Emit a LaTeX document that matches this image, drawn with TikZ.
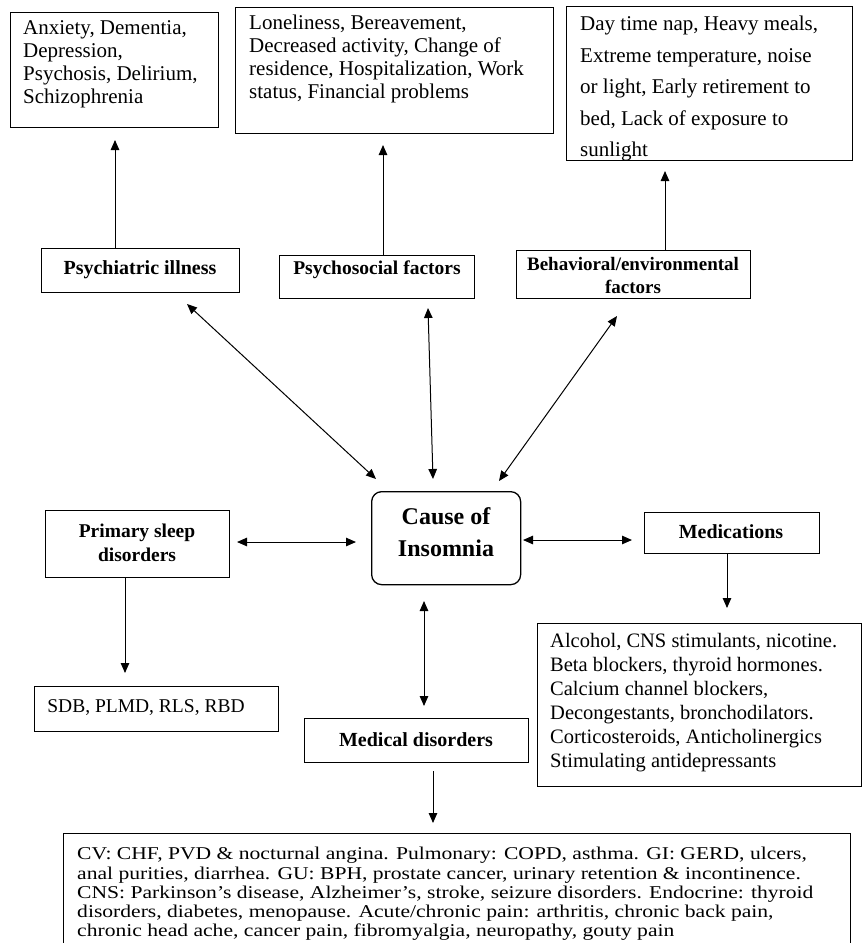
\documentclass[tikz,border=0pt]{standalone}
\usepackage{fontspec}
\setmainfont{Liberation Serif}
\newfontfamily\rt{Liberation Serif}
\newfontfamily\rtw[FakeStretch=1.2]{Liberation Serif}
\usetikzlibrary{arrows.meta}
\tikzset{
  box/.style={draw, line width=1.3pt, inner sep=0pt, anchor=north west},
  txt/.style={inner sep=0pt, anchor=north west, align=left, font=\rt\fontsize{21}{23}\selectfont},
  lbl/.style={inner sep=0pt, align=center, font=\bfseries\fontsize{20}{23}\selectfont},
  arr/.style={line width=1pt, -{Triangle[length=10pt,width=8.5pt]}},
  darr/.style={line width=1pt, {Triangle[length=10pt,width=8.5pt]}-{Triangle[length=10pt,width=8.5pt]}},
}
\begin{document}
\begin{tikzpicture}[x=1pt,y=-1pt]
\useasboundingbox (0,0) rectangle (862,943);
% top boxes
\node[box, minimum width=208pt, minimum height=115pt] (A) at (10,12) {};
\node[txt] (At) at (23,20) {Anxiety, Dementia,\\Depression,\\Psychosis, Delirium,\\Schizophrenia};
\node[box, minimum width=318pt, minimum height=126pt] (B) at (235,7) {};
\node[txt] (Bt) at (249,15) {Loneliness, Bereavement,\\Decreased activity, Change of\\residence, Hospitalization, Work\\status, Financial problems};
\node[box, minimum width=286pt, minimum height=154pt] (C) at (566,6) {};
\node[txt, font=\rt\fontsize{21}{31.5}\selectfont] (Ct) at (580,16) {Day time nap, Heavy meals,\\Extreme temperature, noise\\or light, Early retirement to\\bed, Lack of exposure to\\sunlight};
% labels
\node[box, minimum width=198pt, minimum height=44pt] (PI) at (41,248) {};
\node[lbl] (PIt) at (140,270) {Psychiatric illness};
\node[box, minimum width=195pt, minimum height=43pt] (PS) at (279,255) {};
\node[lbl, font=\bfseries\fontsize{19.5}{23}\selectfont] (PSt) at (377,270) {Psychosocial factors};
\node[box, minimum width=234pt, minimum height=48pt] (BE) at (516,250) {};
\node[lbl, font=\bfseries\fontsize{19}{23}\selectfont] (BEt) at (633,275) {Behavioral/environmental\\factors};
% arrows up
\coordinate (tA) at (115,140);
\coordinate (tB) at (383,145);
\coordinate (tC) at (665,171);
\draw[arr] (PI.north -| tA) -- (tA);
\draw[arr] (PS.north -| tB) -- (tB);
\draw[arr] (BE.north -| tC) -- (tC);
% center
\node[box, rounded corners=10pt, minimum width=149pt, minimum height=93pt] (CI) at (371,491) {};
\node[lbl, font=\bfseries\fontsize{24}{32}\selectfont] (CIt) at (446,532) {Cause of\\Insomnia};
% double arrows
\coordinate (p1) at (187,304); \coordinate (c1) at (376,479);
\coordinate (p2) at (428,308); \coordinate (c2) at (433,479);
\coordinate (p3) at (617,316); \coordinate (c3) at (499,481);
\draw[darr] (p1) -- (c1);
\draw[darr] (p2) -- (c2);
\draw[darr] (p3) -- (c3);
% primary sleep
\node[box, minimum width=184pt, minimum height=67pt] (PR) at (45,510) {};
\node[lbl, font=\bfseries\fontsize{19.5}{24}\selectfont] (PRt) at (137,543) {Primary sleep\\disorders};
\coordinate (l1) at (237,542); \coordinate (l2) at (356,542);
\draw[darr] (l1) -- (l2);
\node[box, minimum width=244pt, minimum height=45pt] (SD) at (34,686) {};
\node[lbl, font=\rt\fontsize{19.5}{23}\selectfont] (SDt) at (146,708) {SDB, PLMD, RLS, RBD};
\coordinate (tS) at (125,673);
\draw[arr] (PR.south -| tS) -- (tS);
% medications
\node[box, minimum width=175pt, minimum height=41pt] (ME) at (644,512) {};
\node[lbl] (MEt) at (731,532) {Medications};
\coordinate (r1) at (523,540); \coordinate (r2) at (632,540);
\draw[darr] (r1) -- (r2);
\coordinate (tM) at (727,608);
\draw[arr] (ME.south -| tM) -- (tM);
\node[box, minimum width=324pt, minimum height=163pt] (ML) at (537,623) {};
\node[txt, font=\rt\fontsize{20.5}{24}\selectfont] (MLt) at (550,633) {Alcohol, CNS stimulants, nicotine.\\Beta blockers, thyroid hormones.\\Calcium channel blockers,\\Decongestants, bronchodilators.\\Corticosteroids, Anticholinergics\\Stimulating antidepressants};
% medical
\coordinate (v1) at (424,601); \coordinate (v2) at (424,706);
\draw[darr] (v1) -- (v2);
\node[box, minimum width=224pt, minimum height=44pt] (MD) at (304,718) {};
\node[lbl] (MDt) at (416,740) {Medical disorders};
\coordinate (tD) at (433,823);
\draw[arr] (MD.south -| tD) ++(0,8) -- (tD);
\node[box, minimum width=787pt, minimum height=160pt] (BT) at (63,833) {};
\node[txt, font=\rtw\fontsize{18}{19.3}\selectfont] (BTt) at (77,847) {CV: CHF, PVD \& nocturnal angina. Pulmonary: COPD, asthma. GI: GERD, ulcers,\\anal purities, diarrhea. GU: BPH, prostate cancer, urinary retention \& incontinence.\\CNS: Parkinson’s disease, Alzheimer’s, stroke, seizure disorders. Endocrine: thyroid\\disorders, diabetes, menopause. Acute/chronic pain: arthritis, chronic back pain,\\chronic head ache, cancer pain, fibromyalgia, neuropathy, gouty pain};
\end{tikzpicture}
\end{document}
